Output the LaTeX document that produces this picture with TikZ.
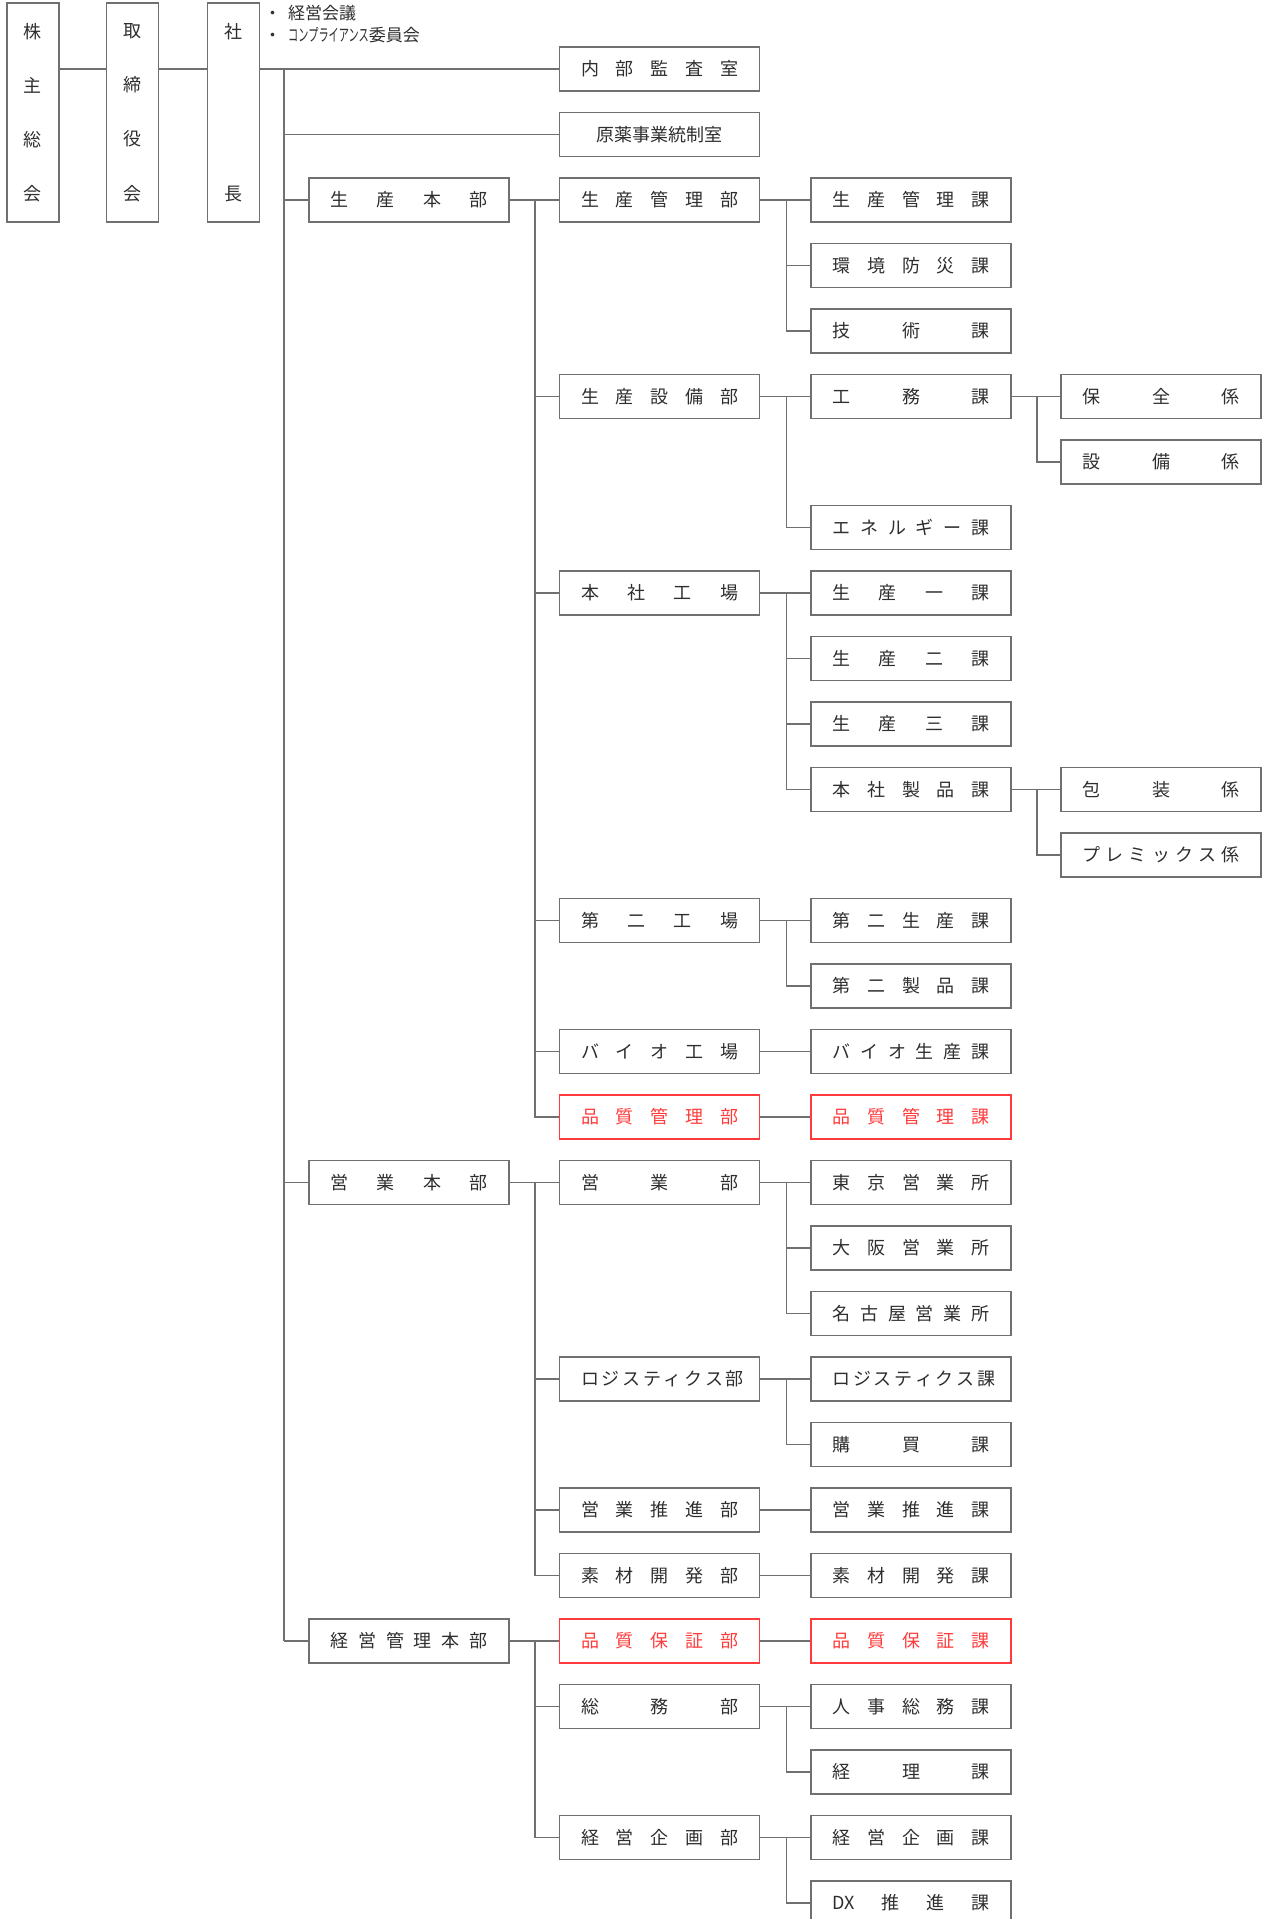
\documentclass[tikz,border=0pt]{standalone}
\usepackage{fontspec}
\setmainfont{Noto Sans CJK JP}
\usepackage{xcolor}
\usepackage{graphicx}
\usepackage{tikz}
\definecolor{framegray}{HTML}{707070}
\definecolor{textgray}{HTML}{2E2E2E}
\definecolor{qcred}{HTML}{FF3A3A}
\newcommand{\spread}[1]{\makebox[157pt][s]{#1}}

\begin{document}
\begin{tikzpicture}[x=1pt,y=-1pt,
    unit/.style={draw=framegray,line width=1.7pt,minimum width=200pt,minimum height=44pt,
      inner sep=0pt,text=textgray,font=\fontsize{18}{20}\selectfont},
    redunit/.style={unit,draw=qcred,text=qcred},
    vbox/.style={unit,minimum width=52pt,minimum height=219pt},
    link/.style={framegray,line width=1.6pt},
    trunkline/.style={framegray,line width=2.4pt}]
  \useasboundingbox (0,0) rectangle (1266,1919);
  % top of the tree
  \node[vbox] (kabu) at (33,112.5) {\parbox[c][177pt][s]{20pt}{\centering 株\par\vfill 主\par\vfill 総\par\vfill 会}};
  \node[vbox] (tori) at (132.5,112.5) {\parbox[c][177pt][s]{20pt}{\centering 取\par\vfill 締\par\vfill 役\par\vfill 会}};
  \node[vbox] (shacho) at (233.5,112.5) {\parbox[c][177pt][s]{20pt}{\centering 社\par\vfill 長}};
  \node[anchor=north west,inner sep=0pt,text=textgray,font=\fontsize{17}{22}\selectfont,align=left] (kaigi) at (264,5)
    {\makebox[24pt][l]{・}経営会議\\\makebox[24pt][l]{・}\scalebox{0.6}[1]{コンプライアンス}委員会};
  % 本部
  \foreach \r/\t in {2/{生 産 本 部},17/{営 業 本 部},24/{経 営 管 理 本 部}}
    \node[unit] (a\r) at (409,{69+65.5*\r}) {\spread{\t}};
  % 部・室
  \node[unit] (b1) at (659.5,{69+65.5}) {原薬事業統制室};
  \foreach \r/\t in {0/{内 部 監 査 室},2/{生 産 管 理 部},5/{生 産 設 備 部},8/{本 社 工 場},
      13/{第 二 工 場},15/{バ イ オ 工 場},17/{営 業 部},20/{ロ ジ ス テ ィ ク ス 部},
      22/{営 業 推 進 部},23/{素 材 開 発 部},25/{総 務 部},27/{経 営 企 画 部}}
    \node[unit] (b\r) at (659.5,{69+65.5*\r}) {\spread{\t}};
  \node[redunit] (b16) at (659.5,{69+65.5*16}) {\spread{品 質 管 理 部}};
  \node[redunit] (b24) at (659.5,{69+65.5*24}) {\spread{品 質 保 証 部}};
  % 課・所
  \foreach \r/\t in {2/{生 産 管 理 課},3/{環 境 防 災 課},4/{技 術 課},5/{工 務 課},
      7/{エ ネ ル ギ ー 課},8/{生 産 一 課},9/{生 産 二 課},10/{生 産 三 課},
      11/{本 社 製 品 課},13/{第 二 生 産 課},14/{第 二 製 品 課},15/{バ イ オ 生 産 課},
      17/{東 京 営 業 所},18/{大 阪 営 業 所},19/{名 古 屋 営 業 所},
      20/{ロ ジ ス テ ィ ク ス 課},21/{購 買 課},22/{営 業 推 進 課},23/{素 材 開 発 課},
      25/{人 事 総 務 課},26/{経 理 課},27/{経 営 企 画 課},28/{DX 推 進 課}}
    \node[unit] (c\r) at (911,{69+65.5*\r}) {\spread{\t}};
  \node[redunit] (c16) at (911,{69+65.5*16}) {\spread{品 質 管 理 課}};
  \node[redunit] (c24) at (911,{69+65.5*24}) {\spread{品 質 保 証 課}};
  % 係
  \foreach \r/\t in {5/{保 全 係},6/{設 備 係},11/{包 装 係},12/{プ レ ミ ッ ク ス 係}}
    \node[unit] (d\r) at (1161,{69+65.5*\r}) {\spread{\t}};

  % connectors
  \draw[link] (kabu.east |- b0) -- (tori.west |- b0);
  \draw[link] (tori.east |- b0) -- (shacho.west |- b0);
  \draw[link] (shacho.east |- b0) -- (b0.west);
  \coordinate (trunk) at (284,69);
  \draw[trunkline] (trunk) -- (trunk |- a24);
  \foreach \n in {b1,a2,a17,a24} \draw[link] (trunk |- \n) -- (\n.west);
  % 本部 -> 部
  \foreach \a/\n in {2/2,2/5,2/8,2/13,2/15,2/16,17/17,17/20,17/22,17/23,24/24,24/25,24/27}
    \draw[link] (a\a.east) -- ++(25,0) |- (b\n.west);
  % 部 -> 課
  \foreach \b/\n in {2/2,2/3,2/4,5/5,5/7,8/8,8/9,8/10,8/11,13/13,13/14,15/15,16/16,
      17/17,17/18,17/19,20/20,20/21,22/22,23/23,24/24,25/25,25/26,27/27,27/28}
    \draw[link] (b\b.east) -- ++(26,0) |- (c\n.west);
  % 課 -> 係
  \foreach \c/\n in {5/5,5/6,11/11,11/12}
    \draw[link] (c\c.east) -- ++(25,0) |- (d\n.west);
\end{tikzpicture}
\end{document}
